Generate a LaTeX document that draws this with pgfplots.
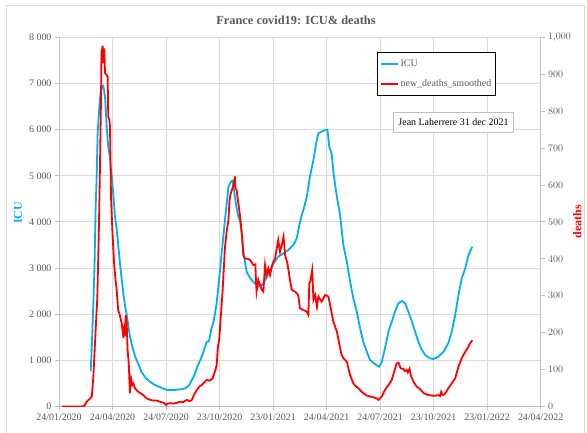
\documentclass[border=0pt]{standalone}
\usepackage{pgfplots}
\pgfplotsset{compat=1.18}
\usepackage{pgfplotstable}
\usepackage{fontspec}
\setmainfont{Liberation Serif}

\definecolor{icu}{HTML}{00B0F0}
\definecolor{txt}{HTML}{595959}
\definecolor{gridc}{HTML}{D9D9D9}
\definecolor{axc}{HTML}{BFBFBF}

% days counted from 24/01/2020
\pgfplotstableread{
day icu
54 770
56 1300
58.5 2200
60.5 3000
62.5 4300
64.3 5000
66 5950
68.8 6500
71 6800
73 6930
75.6 6950
78.5 6713
80 6400
81.3 6063
84 5630
87 5380
90 4980
92.7 4580
95.5 4113
98.4 3840
101 3500
104 3100
107 2760
110 2420
113 2150
116 1950
121 1520
125 1300
130 1080
135 930
141 740
148 620
155 540
163 470
172 420
178 390
184 360
190 355
198 360
206 370
215 390
222 460
226 560
230 650
235 830
239 950
243.5 1080
248 1250
252 1400
256 1420
260 1690
264 1850
269 2250
275 2995
280 3645
284 4150
287 4500
289 4760
293 4870
296 4895
300 4550
303 4300
306 4113
309 4005
312 3716
314.5 3354
320 2921
326 2778
331.6 2704
336 2640
340 2596
346 2630
351.5 2741
359 2921
366 3103
374 3246
383 3320
391 3391
400 3500
405.6 3645
410 3933
414 4150
417 4258
422.7 4546
428 4980
434 5342
438.6 5704
442.5 5920
448 5955
454 5992
458 5992
461 5630
465 5487
469 4980
474 4546
479.5 4150
485 3500
491 3138
496.6 2704
502 2345
508 2054
513.6 1695
519 1404
525 1187
530.7 1008
539 920
546 862
550.7 971
556 1261
562 1621
567.7 1838
573 2054
579 2236
585 2286
590.5 2236
596 2054
602 1838
607.5 1621
613 1404
619 1224
624.6 1116
632 1044
639 1029
647 1079
656 1187
664 1369
670 1621
675.8 1983
681.4 2416
687 2778
693 2995
698.5 3283
705 3463
}\icudata

\pgfplotstableread{
day deaths
5 0
40 0
44 3
47 13
52 20
56 27
58.6 81
62.5 207
65.4 297
68 478
70 659
71.7 839
72.5 960
73.4 966
74.5 977
75.3 940
76 930
77.3 970
78.5 903
81.3 898
83 893
84 785
86 776
87 758
88.7 568
91 478
94 388
96 350
98.4 316
101 260
103 252
107 225
110 185
111 207
112.5 190
113.8 248
115.5 225
117 153
119 117
121 36
122 63
123 75
125 58
127 62
129.7 49
132 45
135 40
140 35
144 31
148 24
152 20
156 18
161 16
167 16
172 13
179 10
182.6 4
186 8
189 9
195 8
201 10
206 13
212 12
218 18
222 15
226 16
229 27
235 45
240 55
243.5 58
248 66
252 72
257 70
262 76
266 95
269 112
271 160
273.5 185
275 221
279 311
283 429
286 474
289 505
291 560
293 578
296 591
298 600
300 623
301 590
303 586
306 550
309 514
312 465
314.5 410
317 401
322 400
326 397
331.6 383
335 385
336 340
337 311
340 343
343 329
346 316
348.6 311
351.5 383
354 356
357 374
360 356
363 380
365.7 392
368.6 401
371.5 429
374 451
377 419
380 437
383 460
385.7 410
389.6 388
394 343
397 316
403 311
408 302
411 266
417 261
422.7 257
425.4 248
427 334
429 340
431 361
432 370
434 289
437 302
440 270
442.5 298
448 284
454 302
459.5 298
462.5 275
468 230
474 203
479.5 158
482 140
485 131
491 121
496.6 85
502 63
506 55
511 49
515 42
519 36
525 30
530.7 27
536 25
542 22
545 18
550.7 27
556 45
562 58
567.7 72
571.7 94
576 117
579 119
583 103
587.5 102
590 96
593 99
595 92
598 102
600 85
604.7 67
610 54
616 47
622 36
630 31
639 29
645 30
647 31
650 28
652 40
654 32
656 31
660 38
664 49
670 63
675.8 76
681.4 108
687 131
693 148
698.5 162
700 168
703 175
705 180
}\deathdata

\begin{document}
\begin{tikzpicture}
\useasboundingbox (0,0) rectangle (587bp,433bp);
\fill[white] (0,0) rectangle (587bp,433bp);
\draw[gridc, line width=0.8bp] (6.7bp,-5bp) rectangle (584bp,427.4bp);

\node[font=\fontsize{12.4}{14}\selectfont\bfseries, text=txt] at (296bp,412.4bp) {France covid19: ICU\& deaths};
\node[rotate=90, font=\fontsize{12}{14}\selectfont\bfseries, text=icu] at (18bp,220bp) {ICU};
\node[rotate=90, font=\fontsize{12}{14}\selectfont\bfseries, text=red] at (577.3bp,211.3bp) {deaths};

\pgfplotsset{
    base/.style={
        scale only axis,
        width=481.7bp,
        height=369.2bp,
        at={(59bp,26.5bp)},
        anchor=south west,
        xmin=0, xmax=821.7,
        tick label style={font=\fontsize{10}{12}\selectfont, text=txt},
        axis line style={draw=axc, line width=0.8bp, -},
        tick style={draw=axc, line width=0.8bp},
        major tick length=4bp,
        tick align=outside,
    }
}

\begin{axis}[
    base,
    ymin=0, ymax=8000,
    axis x line*=bottom,
    axis y line*=left,
    xtick={0,91.3,182.6,273.9,365.2,456.5,547.8,639.1,730.4,821.7},
    xticklabels={24/01/2020,24/04/2020,24/07/2020,23/10/2020,23/01/2021,24/04/2021,24/07/2021,23/10/2021,23/01/2022,24/04/2022},
    ytick={0,1000,...,8000},
    yticklabels={0,1 000,2 000,3 000,4 000,5 000,6 000,7 000,8 000},
    grid=major,
    major grid style={draw=gridc, line width=0.8bp},
]
\addplot[icu, line width=1.8bp] table[x=day, y=icu] {\icudata};
\end{axis}

\begin{axis}[
    base,
    ymin=0, ymax=1000,
    axis x line=none,
    axis y line*=right,
    ytick={0,100,...,1000},
    legend cell align=left,
    legend style={
        at={(0.661,0.959)},
        anchor=north west,
        draw=black,
        line width=0.8bp,
        fill=white,
        font=\fontsize{10}{12}\selectfont,
        text=txt,
        inner ysep=5bp,
        inner xsep=2bp,
        row sep=8bp,
        /tikz/every even column/.append style={column sep=1bp},
    },
]
\addlegendimage{icu, line width=1.8bp}
\addlegendentry{ICU}
\addplot[red, line width=1.8bp] table[x=day, y=deaths] {\deathdata};
\addlegendentry{new\_deaths\_smoothed}
\node[draw=axc, line width=0.8bp, fill=white, inner sep=0pt,
      minimum width=120.7bp, minimum height=20bp,
      font=\fontsize{10}{12}\selectfont]
      at (rel axis cs:0.819,0.770) {Jean Laherrere 31 dec 2021};
\end{axis}
\end{tikzpicture}
\end{document}
